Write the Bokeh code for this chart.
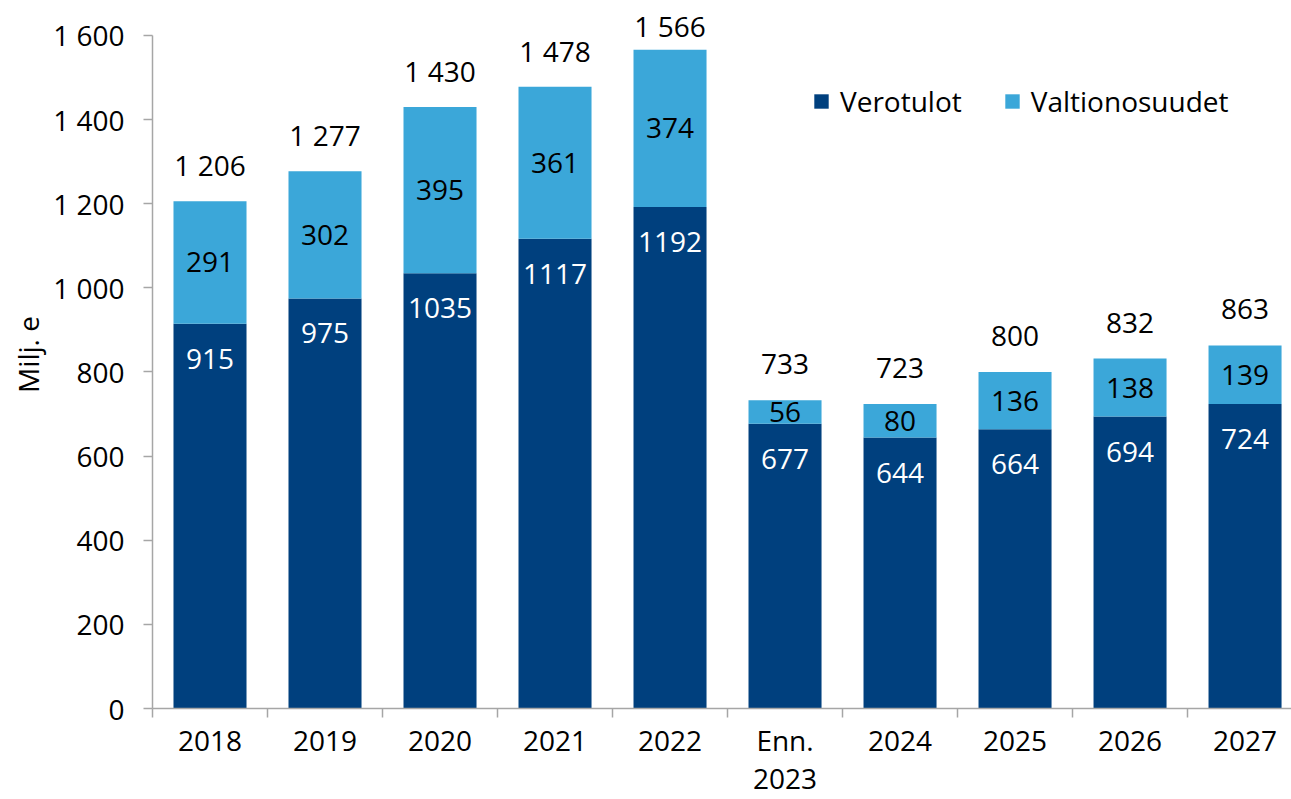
from bokeh.plotting import figure
from bokeh.models import ColumnDataSource, Range1d, FixedTicker, Legend, LegendItem
from bokeh.core.properties import value
from bokeh.embed import file_html
from bokeh.resources import INLINE

# ---- data ----
categories = ["2018", "2019", "2020", "2021", "2022", "Enn.\n2023", "2024", "2025", "2026", "2027"]
verotulot = [915, 975, 1035, 1117, 1192, 677, 644, 664, 694, 724]
valtionosuudet = [291, 302, 395, 361, 374, 56, 80, 136, 138, 139]
totals = [1206, 1277, 1430, 1478, 1566, 733, 723, 800, 832, 863]
y_ticks = [0, 200, 400, 600, 800, 1000, 1200, 1400, 1600]
series_names = ["Verotulot", "Valtionosuudet"]
y_title = "Milj. e"

DARK = "#00407E"
LIGHT = "#3BA7D9"
FONT = "Open Sans"
FS = "28px"

Y_END = 1683.2
PX_PER_UNIT = 708 / Y_END  # frame height / y span


def fmt(v):
    return f"{v:,}".replace(",", " ")


x = list(range(len(categories)))
# total labels sit 36 px above the bar, but are kept inside the plot area
total_label_y = [min(t + 36 / PX_PER_UNIT, Y_END - 25 / PX_PER_UNIT) for t in totals]

source = ColumnDataSource(dict(
    x=x,
    verotulot=verotulot,
    valtionosuudet=valtionosuudet,
    light_mid=[d + l / 2 for d, l in zip(verotulot, valtionosuudet)],
    total_y=total_label_y,
    dark_txt=[str(v) for v in verotulot],
    light_txt=[str(v) for v in valtionosuudet],
    total_txt=[fmt(v) for v in totals],
))

p = figure(width=1291, height=799, output_backend="svg", toolbar_location=None,
           x_range=Range1d(-0.5, 9.404), y_range=Range1d(0, Y_END),
           min_border_left=152, min_border_right=0, min_border_top=0, min_border_bottom=91)
p.outline_line_color = None
p.xgrid.visible = False
p.ygrid.visible = False
p.background_fill_color = "white"

rs = p.vbar_stack(["verotulot", "valtionosuudet"], x="x", width=0.635, color=[DARK, LIGHT],
                  line_color=None, source=source)

# value labels
p.text(x="x", y="verotulot", text="dark_txt", source=source, text_color="white",
       text_font=value(FONT), text_font_size=FS, text_align="center", text_baseline="middle",
       y_offset=35)
p.text(x="x", y="light_mid", text="light_txt", source=source, text_color="black",
       text_font=value(FONT), text_font_size=FS, text_align="center", text_baseline="middle")
p.text(x="x", y="total_y", text="total_txt", source=source, text_color="black",
       text_font=value(FONT), text_font_size=FS, text_align="center", text_baseline="middle")

# axes
AX = "#A6A6A6"
for ax in (p.xaxis[0], p.yaxis[0]):
    ax.axis_line_color = AX
    ax.axis_line_width = 1.5
    ax.major_tick_line_color = AX
    ax.major_tick_line_width = 1.5
    ax.minor_tick_line_color = AX
    ax.minor_tick_line_width = 1.5
    ax.major_label_text_font = FONT
    ax.major_label_text_font_size = FS
    ax.major_label_text_color = "black"
    ax.major_tick_in = 0
    ax.minor_tick_in = 0

yax = p.yaxis[0]
yax.ticker = FixedTicker(ticks=y_ticks)
yax.major_label_overrides = {t: fmt(t) for t in y_ticks}
yax.bounds = (0, 1600)
yax.major_tick_out = 9
yax.minor_tick_out = 0
yax.major_label_standoff = 19
yax.axis_label = y_title
yax.axis_label_text_font = FONT
yax.axis_label_text_font_size = FS
yax.axis_label_text_font_style = "normal"
yax.axis_label_text_color = "black"
yax.axis_label_standoff = 3

xax = p.xaxis[0]
xax.ticker = FixedTicker(ticks=x, minor_ticks=[i - 0.5 for i in x])
xax.major_label_overrides = {i: c for i, c in zip(x, categories)}
xax.major_tick_out = 0
xax.minor_tick_out = 9
xax.major_label_standoff = 3
xax.major_label_text_line_height = 1.0

legend = Legend(items=[LegendItem(label=series_names[0], renderers=[rs[0]]),
                       LegendItem(label=series_names[1], renderers=[rs[1]])],
                orientation="horizontal", location=(660, 588),
                glyph_width=18, glyph_height=18, label_standoff=10, spacing=41,
                padding=0, margin=0, border_line_color=None, background_fill_alpha=0,
                label_text_font=FONT, label_text_font_size=FS, label_text_color="black")
p.add_layout(legend)

open("out.html", "w").write(file_html(p, INLINE))
